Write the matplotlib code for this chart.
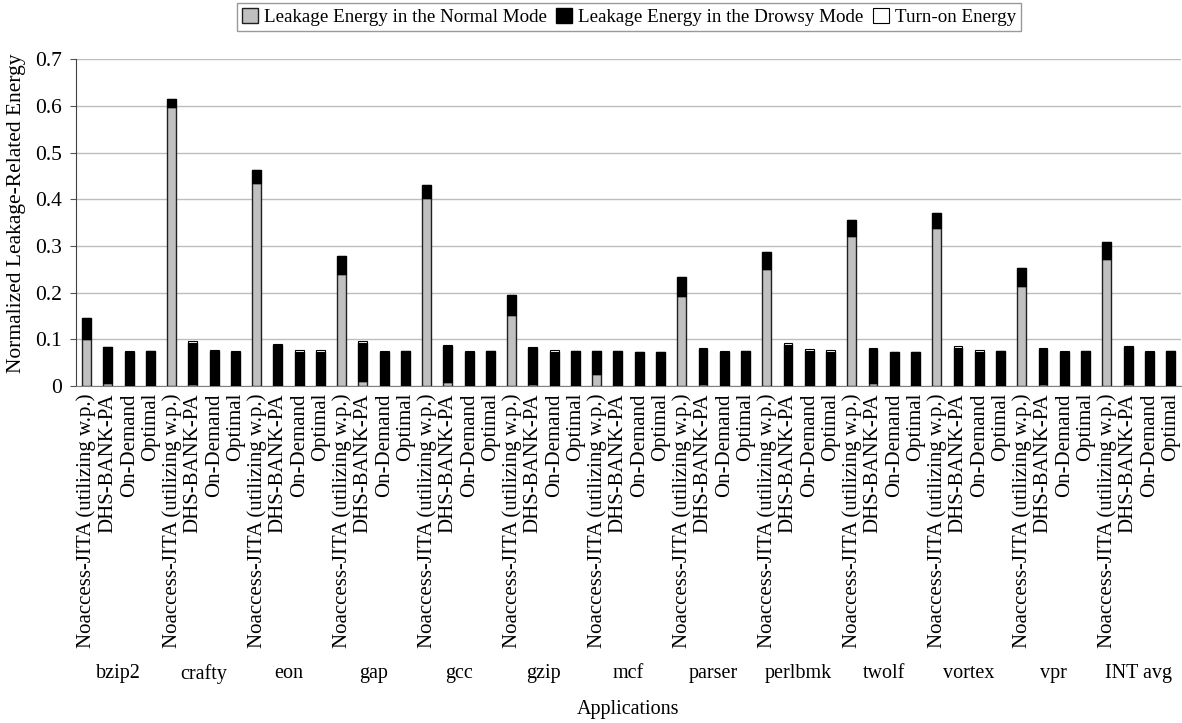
import numpy as np
import matplotlib
matplotlib.use('Agg')
import matplotlib.pyplot as plt
import matplotlib.transforms as mtransforms
from matplotlib.ticker import FuncFormatter

plt.rcParams['font.family'] = ['Liberation Serif', 'DejaVu Serif']

apps = ['bzip2', 'crafty', 'eon', 'gap', 'gcc', 'gzip', 'mcf', 'parser',
        'perlbmk', 'twolf', 'vortex', 'vpr', 'INT avg']
schemes = ['Noaccess-JITA (utilizing w.p.)', 'DHS-BANK-PA', 'On-Demand', 'Optimal']

# one row per application, columns follow schemes
normal = [
    [0.100, 0.006, 0.0, 0.0],
    [0.598, 0.005, 0.0, 0.0],
    [0.435, 0.003, 0.0, 0.0],
    [0.240, 0.010, 0.0, 0.0],
    [0.402, 0.009, 0.0, 0.0],
    [0.152, 0.005, 0.0, 0.0],
    [0.025, 0.002, 0.0, 0.0],
    [0.193, 0.005, 0.0, 0.0],
    [0.251, 0.003, 0.0, 0.0],
    [0.322, 0.006, 0.0, 0.0],
    [0.338, 0.002, 0.0, 0.0],
    [0.214, 0.005, 0.0, 0.0],
    [0.272, 0.005, 0.0, 0.0],
]
drowsy = [
    [0.046, 0.078, 0.073, 0.076],
    [0.017, 0.087, 0.075, 0.074],
    [0.027, 0.084, 0.074, 0.074],
    [0.038, 0.083, 0.074, 0.076],
    [0.028, 0.076, 0.074, 0.075],
    [0.043, 0.077, 0.074, 0.076],
    [0.051, 0.074, 0.072, 0.072],
    [0.040, 0.075, 0.074, 0.075],
    [0.037, 0.086, 0.075, 0.074],
    [0.033, 0.073, 0.072, 0.074],
    [0.033, 0.080, 0.074, 0.076],
    [0.039, 0.075, 0.074, 0.075],
    [0.036, 0.078, 0.073, 0.075],
]
turnon = [
    [0.0, 0.0, 0.003, 0.0],
    [0.0, 0.004, 0.003, 0.002],
    [0.0, 0.004, 0.004, 0.003],
    [0.0, 0.003, 0.002, 0.0],
    [0.0, 0.002, 0.002, 0.0],
    [0.0, 0.002, 0.004, 0.0],
    [0.0, 0.0, 0.0, 0.0],
    [0.0, 0.002, 0.002, 0.0],
    [0.0, 0.004, 0.004, 0.003],
    [0.0, 0.002, 0.002, 0.0],
    [0.0, 0.003, 0.003, 0.0],
    [0.0, 0.002, 0.002, 0.0],
    [0.0, 0.003, 0.003, 0.0],
]

n_s = len(schemes)
nor = np.array(normal).ravel()
dro = np.array(drowsy).ravel()
ton = np.array(turnon).ravel()
x = np.arange(len(nor))

fig = plt.figure(figsize=(11.82, 7.23), dpi=100)
ax = fig.add_axes([0.0643, 0.466, 0.935, 0.452])

w = 0.42
ax.bar(x, nor, w, color='#c0c0c0', edgecolor='#202020', linewidth=1,
       label='Leakage Energy in the Normal Mode', zorder=3)
ax.bar(x, dro, w, bottom=nor, color='black', edgecolor='black', linewidth=1,
       label='Leakage Energy in the Drowsy Mode', zorder=3)
ax.bar(x, ton, w, bottom=nor + dro, color='white', edgecolor='black', linewidth=0.8,
       label='Turn-on Energy', zorder=3)

ax.set_xlim(-0.5, len(x) - 0.5)
ax.set_ylim(0, 0.7)
ax.set_yticks(np.arange(0, 0.71, 0.1))
ax.yaxis.set_major_formatter(FuncFormatter(lambda v, p: '0' if abs(v) < 1e-9 else '%.1f' % v))
ax.yaxis.grid(True, color='#bdbdbd', linewidth=1, zorder=0)
ax.set_axisbelow(True)

ax.set_xticks(x)
ax.set_xticklabels(schemes * len(apps), rotation=90, fontsize=15)
ax.tick_params(axis='x', length=0, pad=5)
ax.tick_params(axis='y', labelsize=15.5, length=4, color='#555555', pad=6)

for s in ['top', 'right']:
    ax.spines[s].set_visible(False)
ax.spines['left'].set_color('#404040')
ax.spines['bottom'].set_color('#808080')

ax.set_ylabel('Normalized Leakage-Related Energy', fontsize=15.5)
ax.yaxis.set_label_coords(-0.045, 0.53)

# application names under each group of four bars
tr = mtransforms.blended_transform_factory(ax.transData, fig.transFigure)
for i, a in enumerate(apps):
    ax.text(i * n_s + (n_s - 1) / 2, 0.068, a, transform=tr, ha='center',
            va='center', fontsize=14.5)
fig.text(0.5315, 0.019, 'Applications', ha='center', va='center', fontsize=14.5)

leg = fig.legend(loc='upper center', bbox_to_anchor=(0.532, 1.0), ncol=3,
                 fontsize=13.7, frameon=True, fancybox=False, edgecolor='#808080',
                 handlelength=0.85, handleheight=0.85, handletextpad=0.3,
                 columnspacing=0.5, borderpad=0.25, borderaxespad=0.15)
leg.get_frame().set_linewidth(1)

fig.savefig('out.png', dpi=100)
